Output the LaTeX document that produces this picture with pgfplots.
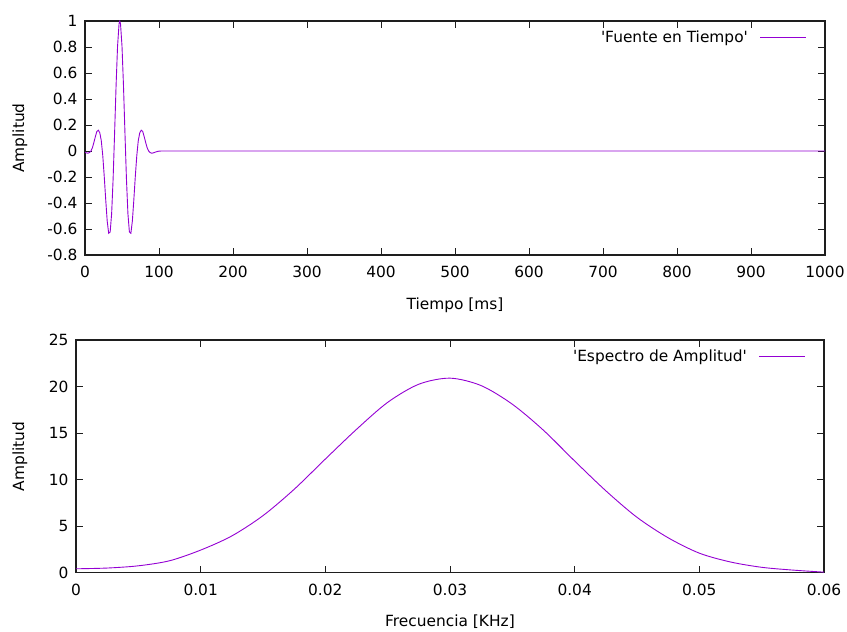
\documentclass[border=0pt]{standalone}
\usepackage{pgfplots}
\pgfplotsset{compat=1.18}
\usepackage{fontspec}
\setmainfont{DejaVu Sans}
\definecolor{gpviolet}{RGB}{148,0,211}
\definecolor{gpaxis}{RGB}{30,30,30}

% wavelet in time (ms)
\pgfplotstableread{
t y
0 -0.0100
2 -0.0150
4 -0.0170
6 -0.0120
8 0.0000
10 0.0250
12 0.0650
14 0.1100
16 0.1500
18 0.1600
20 0.1400
22 0.0800
24 -0.0350
26 -0.1950
28 -0.3750
30 -0.5391
32 -0.6330
34 -0.6230
36 -0.4820
38 -0.2136
40 0.1374
42 0.5035
44 0.8064
46 0.9776
47 1.0
48 0.9776
50 0.8064
52 0.5035
54 0.1374
56 -0.2136
58 -0.4820
60 -0.6230
62 -0.6330
64 -0.5391
66 -0.3750
68 -0.1950
70 -0.0350
72 0.0800
74 0.1400
76 0.1600
78 0.1500
80 0.1100
82 0.0650
84 0.0250
86 0.0000
88 -0.0120
90 -0.0170
92 -0.0150
94 -0.0110
96 -0.0070
98 -0.0035
100 -0.0010
104 0
200 0
500 0
1000 0
}\fuente

% amplitude spectrum (kHz)
\pgfplotstableread{
f a
0 0.42
0.0025 0.50
0.005 0.74
0.0075 1.28
0.01 2.43
0.0125 3.95
0.015 6.13
0.0175 8.96
0.02 12.21
0.0225 15.4
0.025 18.3
0.0275 20.25
0.03 20.9
0.0325 20.1
0.035 18.1
0.0375 15.3
0.04 12.0
0.0425 8.8
0.045 5.95
0.0475 3.75
0.05 2.1
0.0525 1.15
0.055 0.58
0.0575 0.28
0.06 0.06
}\espectro

\pgfplotsset{
  gp/.style={
    scale only axis, anchor=south west,
    axis line style={line width=1.1pt, gpaxis},
    tick align=inside, major tick length=7pt,
    tick style={line width=0.9pt, gpaxis},
    /pgf/number format/assume math mode=true,
    /pgf/number format/set thousands separator={},
    scaled ticks=false,
    no markers,
    every axis plot post/.append style={gpviolet, line width=0.9pt},
    yticklabel style={xshift=-4pt},
    xticklabel style={yshift=-8pt},
    legend plot pos=right,
    legend cell align=right,
    legend style={draw=none, fill=none, at={(1,1)}, anchor=north east,
      xshift=-18pt, yshift=-10pt, inner sep=0pt, nodes={inner sep=0pt},
      column sep=12pt},
    legend image code/.code={\draw[##1] (0pt,0pt) -- (46pt,0pt);},
  }
}

\begin{document}
\begin{tikzpicture}[font=\fontsize{15.4}{18}\selectfont]
\useasboundingbox (0pt,0pt) rectangle (847pt,632pt);

\begin{axis}[gp,
  at={(85pt,377pt)}, width=740pt, height=234pt,
  xmin=0, xmax=1000, ymin=-0.8, ymax=1,
  xtick={0,100,200,300,400,500,600,700,800,900,1000},
  ytick={-0.8,-0.6,-0.4,-0.2,0,0.2,0.4,0.6,0.8,1},
  xlabel={Tiempo [ms]}, ylabel={Amplitud},
  xlabel style={at={([yshift=-50pt]rel axis cs:0.5,0)}, anchor=center},
  ylabel style={at={([xshift=-65pt]rel axis cs:0,0.5)}, anchor=center},
]
\addplot table[x=t, y=y] {\fuente};
\addlegendentry{\textquotesingle Fuente en Tiempo\textquotesingle}
\end{axis}

\begin{axis}[gp,
  at={(76pt,59.3pt)}, width=748pt, height=232.7pt,
  xmin=0, xmax=0.06, ymin=0, ymax=25,
  xtick={0,0.01,0.02,0.03,0.04,0.05,0.06},
  ytick={0,5,10,15,20,25},
  xticklabel style={/pgf/number format/fixed, /pgf/number format/precision=2},
  xlabel={Frecuencia [KHz]}, ylabel={Amplitud},
  xlabel style={at={([yshift=-49pt]rel axis cs:0.5,0)}, anchor=center},
  ylabel style={at={([xshift=-56pt]rel axis cs:0,0.5)}, anchor=center},
]
\addplot[smooth] table[x=f, y=a] {\espectro};
\addlegendentry{\textquotesingle Espectro de Amplitud\textquotesingle}
\end{axis}
\end{tikzpicture}
\end{document}
